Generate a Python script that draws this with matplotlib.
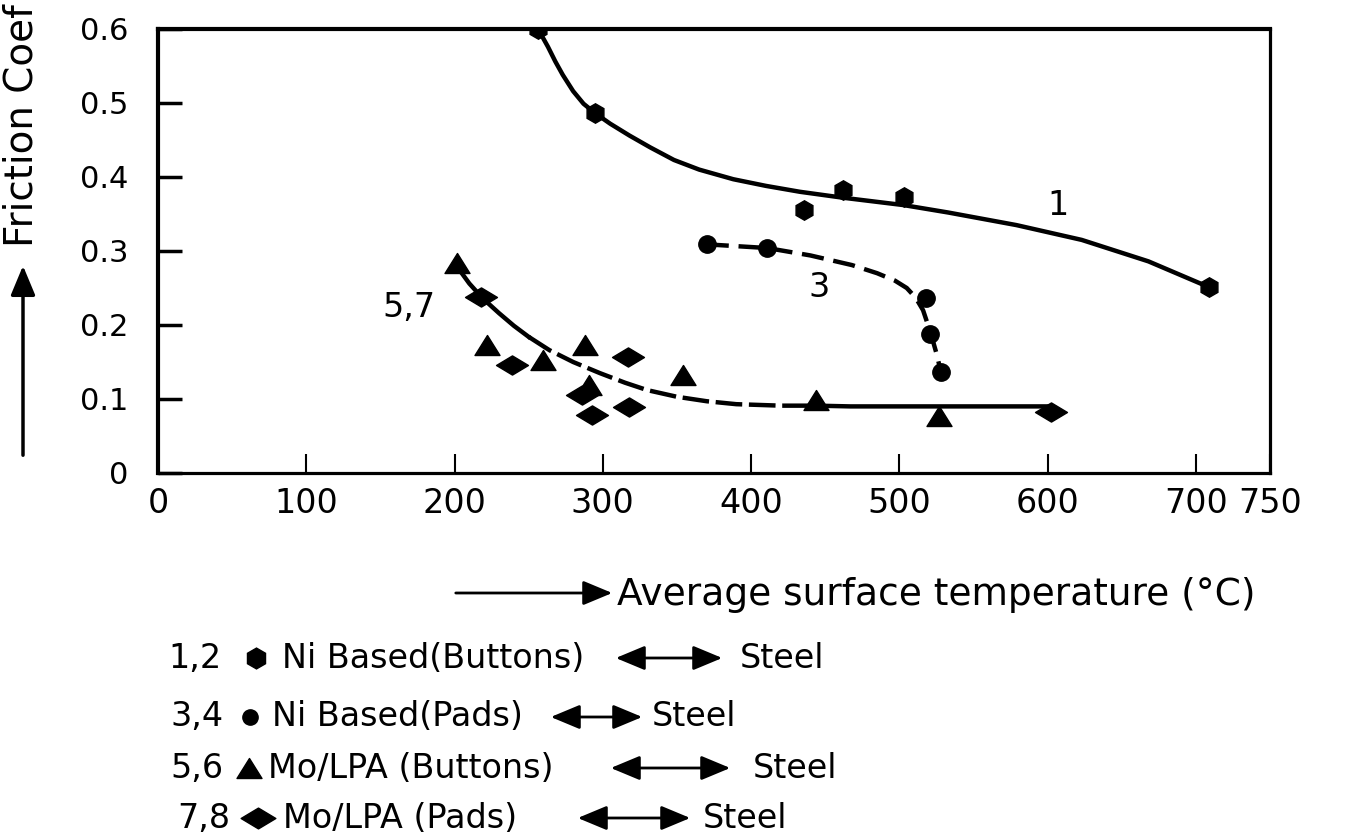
import numpy as np
import matplotlib
matplotlib.use('Agg')
import matplotlib.pyplot as plt
from matplotlib.path import Path
from matplotlib.lines import Line2D

W, H = 1347, 840

# Punkty pomiarowe (temperatura [°C], wsp. tarcia)
ni_btn_t = [256, 295, 436, 462, 503, 709]
ni_btn_f = [0.600, 0.486, 0.355, 0.382, 0.373, 0.251]
ni_pad_t = [370, 411, 518, 521, 528]
ni_pad_f = [0.309, 0.304, 0.236, 0.188, 0.137]
mo_btn_t = [202, 222, 260, 288, 291, 354, 444, 527]
mo_btn_f = [0.284, 0.173, 0.153, 0.173, 0.119, 0.132, 0.099, 0.077]
mo_pad_t = [218, 239, 286, 293, 317, 318, 602]
mo_pad_f = [0.238, 0.146, 0.105, 0.078, 0.157, 0.089, 0.082]

# Krzywe
curve1_t = [256, 258, 263, 268, 273, 280, 287, 295, 305, 318, 332, 348, 365, 388, 410, 433,
            462, 503, 533, 579, 623, 668, 709]
curve1_f = [0.600, 0.594, 0.576, 0.556, 0.538, 0.516, 0.499, 0.486, 0.472, 0.456, 0.440,
            0.423, 0.410, 0.397, 0.388, 0.380, 0.372, 0.362, 0.352, 0.335, 0.315, 0.286, 0.251]
curve3_t = [370, 411, 440, 468, 485, 497, 505, 511, 516, 521, 525, 528]
curve3_f = [0.309, 0.304, 0.294, 0.281, 0.270, 0.260, 0.250, 0.237, 0.220, 0.190, 0.162, 0.137]
curve57_t = [202, 210, 219, 230, 240, 250, 264, 280, 298, 315, 330, 350, 370, 390, 420, 444,
             467, 527, 601]
curve57_f = [0.278, 0.256, 0.236, 0.216, 0.199, 0.184, 0.166, 0.150, 0.135, 0.122, 0.112,
             0.103, 0.097, 0.093, 0.091, 0.091, 0.090, 0.090, 0.090]

x_ticks = [0, 100, 200, 300, 400, 500, 600, 700, 750]
x_ticklabels = ['0', '100', '200', '300', '400', '500', '600', '700', '750']
y_ticks = [0, 0.1, 0.2, 0.3, 0.4, 0.5, 0.6]
y_ticklabels = ['0', '0.1', '0.2', '0.3', '0.4', '0.5', '0.6']

legend_rows = [
    ('1,2', 'Ni Based(Buttons)'),
    ('3,4', 'Ni Based(Pads)'),
    ('5,6', 'Mo/LPA (Buttons)'),
    ('7,8', 'Mo/LPA (Pads)'),
]


def px(x, y):
    return x / W, 1 - y / H


tri = Path([(-1, -0.8), (1, -0.8), (0, 0.8), (-1, -0.8)],
           [Path.MOVETO, Path.LINETO, Path.LINETO, Path.CLOSEPOLY])
dia = Path([(-1, 0), (0, 0.6), (1, 0), (0, -0.6), (-1, 0)],
           [Path.MOVETO, Path.LINETO, Path.LINETO, Path.LINETO, Path.CLOSEPOLY])

fig = plt.figure(figsize=(W / 100, H / 100), dpi=100)
ax = fig.add_axes([158 / W, 1 - 473 / H, (1270 - 158) / W, (473 - 29) / H])

# Krzywe
ax.plot(curve1_t, curve1_f, 'k-', lw=3.2, solid_joinstyle='round')
ax.plot(curve3_t, curve3_f, 'k-', lw=3.2, dashes=(5, 2.2))
ax.plot(curve57_t[:6], curve57_f[:6], 'k-', lw=3.2, solid_joinstyle='round')
ax.plot(curve57_t[5:16], curve57_f[5:16], 'k-', lw=3.2, dashes=(6, 1.5))
ax.plot(curve57_t[15:], curve57_f[15:], 'k-', lw=3.2)

# Punkty
ax.plot(ni_btn_t, ni_btn_f, 'kh', ms=14, ls='none')
ax.plot(ni_pad_t, ni_pad_f, 'ko', ms=12.5, ls='none')
ax.plot(mo_btn_t, mo_btn_f, color='k', marker=tri, ms=18, ls='none')
ax.plot(mo_pad_t, mo_pad_f, color='k', marker=dia, ms=23, ls='none')

ax.text(607, 0.361, '1', fontsize=24, ha='center', va='center')
ax.text(446, 0.251, '3', fontsize=24, ha='center', va='center')
ax.text(169, 0.224, '5,7', fontsize=24, ha='center', va='center')

ax.set_xlim(0, 750)
ax.set_ylim(0, 0.6)
ax.set_xticks(x_ticks)
ax.set_xticklabels(x_ticklabels, fontsize=24)
ax.set_yticks(y_ticks)
ax.set_yticklabels(y_ticklabels, fontsize=22)
ax.tick_params(axis='x', direction='in', length=14, width=1.5, pad=10)
ax.tick_params(axis='y', direction='in', length=17, width=2.5, pad=21)
ax.spines['left'].set_linewidth(3)
ax.spines['top'].set_linewidth(3)
ax.spines['bottom'].set_linewidth(2.3)
ax.spines['right'].set_linewidth(2.3)

# Opis osi Y ze strzałką
fig.text(*px(22, 247), 'Friction Coef', rotation=90, ha='center', va='bottom', fontsize=28)
ax.annotate('', xy=px(23, 263), xytext=px(23, 458), xycoords='figure fraction',
            arrowprops=dict(arrowstyle='-|>,head_length=0.6,head_width=0.25',
                            lw=2.5, color='k', mutation_scale=30))

# Opis osi X ze strzałką
ax.annotate('', xy=px(615, 593), xytext=px(453, 593), xycoords='figure fraction',
            arrowprops=dict(arrowstyle='-|>,head_length=0.6,head_width=0.25',
                            lw=2, color='k', mutation_scale=30))
fig.text(*px(617, 595), 'Average surface temperature (°C)', ha='left', va='center', fontsize=27)

# Legenda
row_y = [658, 717, 768, 818]
num_x = [168, 170, 170, 177]
mark_x = [256, 250, 249, 258]
text_x = [282, 272, 268, 283]
arrow_x = [(613, 725), (548, 645), (608, 733), (575, 693)]
steel_x = [740, 652, 753, 703]
markers = [('h', 15), ('o', 11), (tri, 18), (dia, 25)]

for i, (num, name) in enumerate(legend_rows):
    y = row_y[i]
    fig.text(*px(num_x[i], y), num, ha='left', va='center', fontsize=24)
    m, s = markers[i]
    fig.add_artist(Line2D([mark_x[i] / W], [1 - y / H], transform=fig.transFigure,
                          marker=m, ms=s, color='k', ls='none'))
    fig.text(*px(text_x[i], y), name, ha='left', va='center', fontsize=24)
    ax.annotate('', xy=px(arrow_x[i][1], y), xytext=px(arrow_x[i][0], y),
                xycoords='figure fraction',
                arrowprops=dict(arrowstyle='<|-|>,head_length=0.6,head_width=0.25',
                                lw=2, color='k', mutation_scale=30))
    fig.text(*px(steel_x[i], y), 'Steel', ha='left', va='center', fontsize=24)

fig.savefig('out.png', dpi=100)
